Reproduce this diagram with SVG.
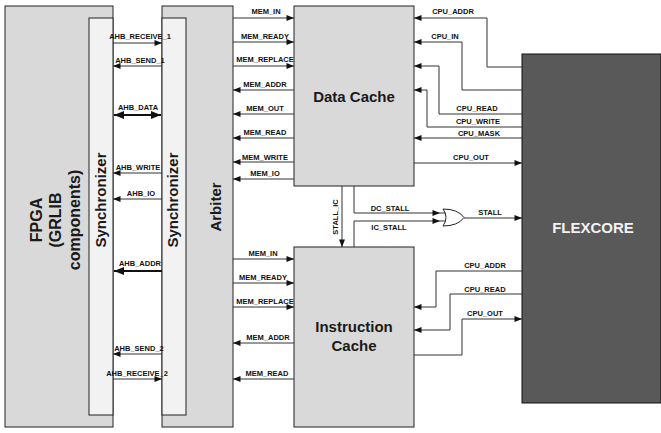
<svg xmlns="http://www.w3.org/2000/svg" width="661" height="433" viewBox="0 0 661 433">
<defs>
<style>
.box{fill:#d9d9d9;stroke:#222;stroke-width:1}
.sync{fill:#f2f2f2;stroke:#222;stroke-width:1}
.flex{fill:#595959;stroke:#111;stroke-width:1}
.w{fill:none;stroke:#333;stroke-width:1}
.wt{fill:none;stroke:#111;stroke-width:2}
.lbl{font-family:"Liberation Sans",Arial,sans-serif;font-weight:bold;font-size:7.5px;fill:#111;text-anchor:middle}
.big{font-family:"Liberation Sans",Arial,sans-serif;font-weight:bold;font-size:15px;fill:#1a1a1a;text-anchor:middle}
.fpga{font-family:"Liberation Sans",Arial,sans-serif;font-weight:bold;font-size:16px;fill:#1a1a1a;text-anchor:middle}
.a{marker-end:url(#ah)}
</style>
<marker id="ah" viewBox="0 0 10 8" refX="10" refY="4" markerWidth="9" markerHeight="6" markerUnits="userSpaceOnUse" orient="auto-start-reverse">
<path d="M0,0 L10,4 L0,8 z" fill="#111"/>
</marker>
<marker id="ahb" viewBox="0 0 10 8" refX="10" refY="4" markerWidth="12" markerHeight="8" markerUnits="userSpaceOnUse" orient="auto-start-reverse">
<path d="M0,0 L10,4 L0,8 z" fill="#111"/>
</marker>
</defs>

<g id="fpga">
<rect class="box" x="5" y="6" width="108" height="421"/>
<text class="fpga" transform="translate(42,220) rotate(-90)">FPGA</text>
<text class="fpga" transform="translate(61,220) rotate(-90)">(GRLIB</text>
<text class="fpga" transform="translate(80,220) rotate(-90)">components)</text>
</g>
<g id="sync1">
<rect class="sync" x="89" y="18" width="24" height="397"/>
<text class="big" transform="translate(106,200) rotate(-90)">Synchronizer</text>
</g>
<g id="arbiter">
<rect class="box" x="162" y="6" width="71" height="421"/>
<text class="big" transform="translate(221,207) rotate(-90)">Arbiter</text>
</g>
<g id="sync2">
<rect class="sync" x="162" y="18" width="24" height="397"/>
<text class="big" transform="translate(178,200) rotate(-90)">Synchronizer</text>
</g>
<g id="dcache">
<rect class="box" x="294" y="6" width="120" height="180"/>
<text class="big" x="354" y="101.5">Data Cache</text>
</g>
<g id="icache">
<rect class="box" x="294" y="247" width="120" height="180"/>
<text class="big" x="354" y="332">Instruction</text>
<text class="big" x="354" y="351">Cache</text>
</g>
<g id="flexcore">
<rect class="flex" x="522" y="54" width="139" height="349"/>
<text class="big" x="593" y="232.5" style="fill:#f2f2f2">FLEXCORE</text>
</g>
<g id="orgate">
<path d="M443,209 Q458,209 464,217.5 Q458,226 443,226 Q449,217.5 443,209 z" fill="#fff" stroke="#222" stroke-width="1"/>
</g>

<g id="connectors">
<!-- synchronizer links -->
<path class="w a" d="M113,43 H162"/>
<path class="w a" d="M162,66 H113"/>
<path class="wt" d="M114,115 H161" marker-start="url(#ahb)" marker-end="url(#ahb)"/>
<path class="w a" d="M162,173 H113"/>
<path class="w a" d="M162,199 H113"/>
<path class="wt" d="M162,271 H114" marker-end="url(#ahb)"/>
<path class="w a" d="M162,354 H113"/>
<path class="w a" d="M113,379 H162"/>
<!-- arbiter to data cache -->
<path class="w a" d="M233,18 H294"/>
<path class="w a" d="M233,42 H294"/>
<path class="w a" d="M233,66 H294"/>
<path class="w a" d="M294,90 H233"/>
<path class="w a" d="M294,114 H233"/>
<path class="w a" d="M294,138 H233"/>
<path class="w a" d="M294,162 H233"/>
<path class="w a" d="M294,179 H233"/>
<!-- arbiter to instruction cache -->
<path class="w a" d="M233,259 H294"/>
<path class="w a" d="M233,283 H294"/>
<path class="w a" d="M233,307 H294"/>
<path class="w a" d="M294,343 H233"/>
<path class="w a" d="M294,379 H233"/>
<!-- flexcore to data cache -->
<path class="w a" d="M522,67 H487 V18 H414"/>
<path class="w a" d="M522,90 H462 V42 H414"/>
<path class="w a" d="M522,114 H439 V66 H414"/>
<path class="w a" d="M522,127 H427 V90 H414"/>
<path class="w a" d="M522,138 H414"/>
<path class="w a" d="M414,163 H522"/>
<!-- flexcore to instruction cache -->
<path class="w a" d="M522,271 H436 V307 H414"/>
<path class="w a" d="M522,294 H450 V330 H414"/>
<path class="w a" d="M414,355 H462 V319 H522"/>
<!-- stall -->
<path class="w a" d="M342,186 V247"/>
<path class="w a" d="M354,186 V213 H440"/>
<path class="w" d="M440,213 H446"/>
<path class="w a" d="M354,247 V221 H440"/>
<path class="w" d="M440,221 H446"/>
<path class="w a" d="M464,218 H522"/>
</g>

<g id="labels">
<text class="lbl" x="140" y="39">AHB_RECEIVE_1</text>
<text class="lbl" x="140" y="63">AHB_SEND_1</text>
<text class="lbl" x="138" y="110">AHB_DATA</text>
<text class="lbl" x="138" y="170">AHB_WRITE</text>
<text class="lbl" x="141" y="196">AHB_IO</text>
<text class="lbl" x="140" y="266">AHB_ADDR</text>
<text class="lbl" x="139" y="351">AHB_SEND_2</text>
<text class="lbl" x="137" y="376">AHB_RECEIVE_2</text>

<text class="lbl" x="266" y="14">MEM_IN</text>
<text class="lbl" x="265" y="38.5">MEM_READY</text>
<text class="lbl" x="265" y="62">MEM_REPLACE</text>
<text class="lbl" x="265" y="87">MEM_ADDR</text>
<text class="lbl" x="265" y="111">MEM_OUT</text>
<text class="lbl" x="265" y="135">MEM_READ</text>
<text class="lbl" x="265" y="159.5">MEM_WRITE</text>
<text class="lbl" x="265" y="176">MEM_IO</text>

<text class="lbl" x="263" y="255.5">MEM_IN</text>
<text class="lbl" x="263" y="279.5">MEM_READY</text>
<text class="lbl" x="265" y="303.5">MEM_REPLACE</text>
<text class="lbl" x="268" y="340">MEM_ADDR</text>
<text class="lbl" x="267" y="376">MEM_READ</text>

<text class="lbl" x="453" y="14">CPU_ADDR</text>
<text class="lbl" x="445" y="39">CPU_IN</text>
<text class="lbl" x="477" y="111">CPU_READ</text>
<text class="lbl" x="478" y="124">CPU_WRITE</text>
<text class="lbl" x="479" y="136">CPU_MASK</text>
<text class="lbl" x="471" y="160">CPU_OUT</text>

<text class="lbl" x="485" y="268">CPU_ADDR</text>
<text class="lbl" x="485" y="291.5">CPU_READ</text>
<text class="lbl" x="485" y="316">CPU_OUT</text>

<text class="lbl" x="390" y="211">DC_STALL</text>
<text class="lbl" x="389" y="230">IC_STALL</text>
<text class="lbl" transform="translate(338,217) rotate(-90)">STALL_IC</text>
<text class="lbl" x="490" y="215">STALL</text>
</g>
</svg>
